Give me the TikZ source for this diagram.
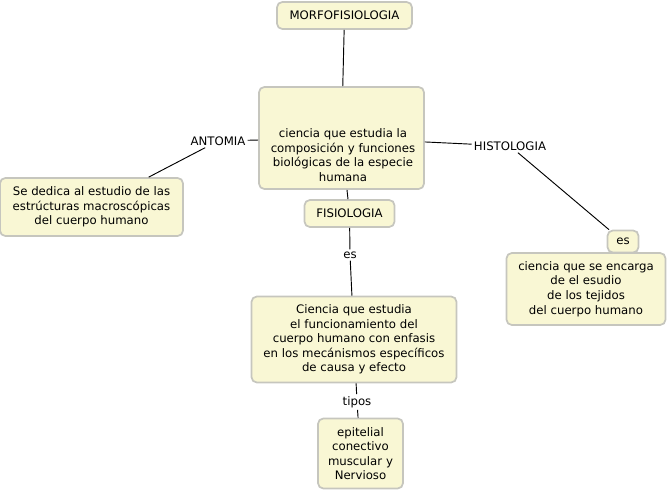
\documentclass[tikz,border=0pt]{standalone}
\usepackage{fontspec}
\setmainfont{DejaVu Sans}
\begin{document}
\begin{tikzpicture}[x=0.75pt,y=-0.75pt,
  box/.style={draw=boxborder,fill=boxfill,line width=1.3pt,rounded corners=4pt,align=center,inner sep=0pt},
  lbl/.style={inner sep=1.5pt,align=center,fill=white},
  conn/.style={draw=black,line width=0.7pt}]
\definecolor{boxfill}{HTML}{F9F7D4}
\definecolor{boxborder}{HTML}{C6C6BE}
\fontsize{8.8}{10.9}\selectfont
\useasboundingbox (0,0) rectangle (668,491);
% nodes
\node[box,minimum width=135*0.75pt,minimum height=27*0.75pt] (morfo) at (344.5,15.5) {MORFOFISIOLOGIA};
\node[box,minimum width=165*0.75pt,minimum height=102*0.75pt] (main) at (341.5,138) {};
\node[align=center,inner sep=0pt] (maintext) at (343,155) {ciencia que estudia la\\composición y funciones\\biológicas de la especie\\humana};
\node[lbl] (antomia) at (218,141) {ANTOMIA};
\node[box,minimum width=183*0.75pt,minimum height=58*0.75pt] (left) at (91.5,207) {Se dedica al estudio de las\\estrúcturas macroscópicas\\del cuerpo humano};
\node[lbl] (histo) at (510,146) {HISTOLOGIA};
\node[box,minimum width=31*0.75pt,minimum height=22*0.75pt] (esr) at (623,241.5) {es};
\node[box,minimum width=159*0.75pt,minimum height=72*0.75pt] (right) at (586,289) {ciencia que se encarga\\de el esudio\\de los tejidos\\del cuerpo humano};
\node[box,minimum width=90*0.75pt,minimum height=27*0.75pt] (fisio) at (349.5,213.5) {FISIOLOGIA};
\node[lbl] (es) at (350,255) {es};
\node[box,minimum width=205*0.75pt,minimum height=86*0.75pt] (mid) at (354,339.5) {Ciencia que estudia\\el funcionamiento del\\cuerpo humano con enfasis\\en los mecánismos específicos\\de causa y efecto};
\node[lbl] (tipos) at (357,402) {tipos};
\node[box,minimum width=85*0.75pt,minimum height=70*0.75pt,text width=80*0.75pt] (bot) at (360.5,453.5) {epitelial\\conectivo\\muscular y\\Nervioso};
% connectors
\draw[conn] (morfo) -- (main);
\draw[conn] (main) -- (antomia);
\draw[conn] (antomia) -- (left);
\draw[conn] (main) -- (histo);
\draw[conn] (histo) -- (esr);
\draw[conn] (main) -- (fisio);
\draw[conn] (fisio) -- (es);
\draw[conn] (es) -- (mid);
\draw[conn] (mid) -- (tipos);
\draw[conn] (tipos) -- (bot);
\end{tikzpicture}
\end{document}
